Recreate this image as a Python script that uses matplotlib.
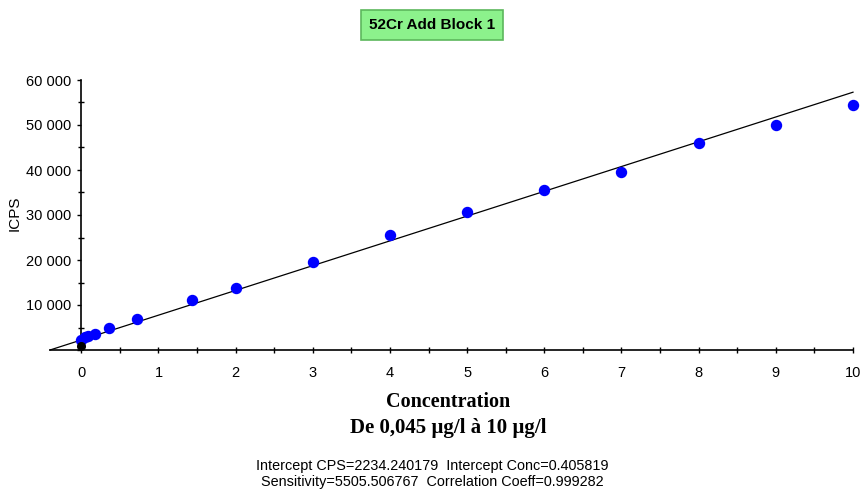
import matplotlib
matplotlib.use("Agg")
import matplotlib.pyplot as plt
import numpy as np
from matplotlib.ticker import MultipleLocator, FuncFormatter

# Data
conc = [0, 0.045, 0.09, 0.18, 0.36, 0.72, 1.44, 2, 3, 4, 5, 6, 7, 8, 9, 10]
icps = [2300, 2900, 3200, 3500, 4900, 7000, 11100, 13800, 19600, 25500,
        30700, 35600, 39600, 46000, 50000, 54400]
blank_conc = [0]
blank_icps = [1000]
intercept_cps = 2234.240179
intercept_conc = 0.405819
sensitivity = 5505.506767
corr = 0.999282

title = "52Cr Add Block 1"
xlabel1 = "Concentration"
xlabel2 = "De 0,045 µg/l à 10 µg/l"
ylabel = "ICPS"
stats1 = "Intercept CPS=2234.240179  Intercept Conc=0.405819"
stats2 = "Sensitivity=5505.506767  Correlation Coeff=0.999282"

sans = ['Liberation Sans', 'DejaVu Sans']

fig = plt.figure(figsize=(8.61, 4.92), dpi=100)
W, H = 861, 492
ax = fig.add_axes([50 / W, 1 - 350 / H, (853 - 50) / W, (350 - 80) / H])

# Fit line
xl = np.array([-intercept_conc, 10])
ax.plot(xl, intercept_cps + sensitivity * xl, color='black', lw=0.9, zorder=2,
        clip_on=False)
ax.plot(conc, icps, 'o', color='#0000FF', ms=7.2, mec='#0000FF', zorder=3,
        clip_on=False)
ax.plot(blank_conc, blank_icps, 'o', color='black', ms=5.5, zorder=4,
        clip_on=False)

ax.set_xlim(-intercept_conc, 10)
ax.set_ylim(0, 60000)

for s in ['top', 'right']:
    ax.spines[s].set_visible(False)
ax.spines['left'].set_position(('data', 0))
ax.spines['bottom'].set_position(('data', 0))
ax.spines['left'].set_linewidth(1.2)
ax.spines['bottom'].set_linewidth(1.2)

ax.xaxis.set_major_locator(MultipleLocator(1))
ax.xaxis.set_minor_locator(MultipleLocator(0.5))
ax.yaxis.set_major_locator(MultipleLocator(10000))
ax.yaxis.set_minor_locator(MultipleLocator(5000))

def yfmt(v, p):
    if v <= 0:
        return ""
    return f"{int(v):,}".replace(",", " ")

ax.yaxis.set_major_formatter(FuncFormatter(yfmt))
ax.tick_params(axis='x', which='both', direction='inout', length=5, width=1, pad=9)
ax.tick_params(axis='y', which='major', direction='out', length=3, width=1, pad=4)
ax.tick_params(axis='y', which='minor', direction='inout', length=5, width=1)
for lab in ax.get_xticklabels() + ax.get_yticklabels():
    lab.set_family(sans)
    lab.set_fontsize(10.5)

fig.text(15 / W, 1 - 213 / H, ylabel, rotation=90, ha='center', va='center',
         fontsize=11, family=sans)

# Title box
fig.text(432 / W, 1 - 25 / H, title, ha='center', va='center', fontsize=11,
         fontweight='bold', family=sans,
         bbox=dict(boxstyle='square,pad=0.5', facecolor='#8CF28C',
                   edgecolor='#5CB85C', linewidth=1.2))

fig.text(448 / W, 1 - 402 / H, xlabel1, ha='center', va='center', fontsize=14.5,
         fontweight='bold', family='Liberation Serif')
fig.text(448 / W, 1 - 428 / H, xlabel2, ha='center', va='center', fontsize=15,
         fontweight='bold', family='Liberation Serif')

fig.text(432 / W, 1 - 466 / H, stats1, ha='center', va='center', fontsize=10.4,
         family=sans)
fig.text(432 / W, 1 - 482 / H, stats2, ha='center', va='center', fontsize=10.4,
         family=sans)

fig.savefig("out.png", dpi=100)
